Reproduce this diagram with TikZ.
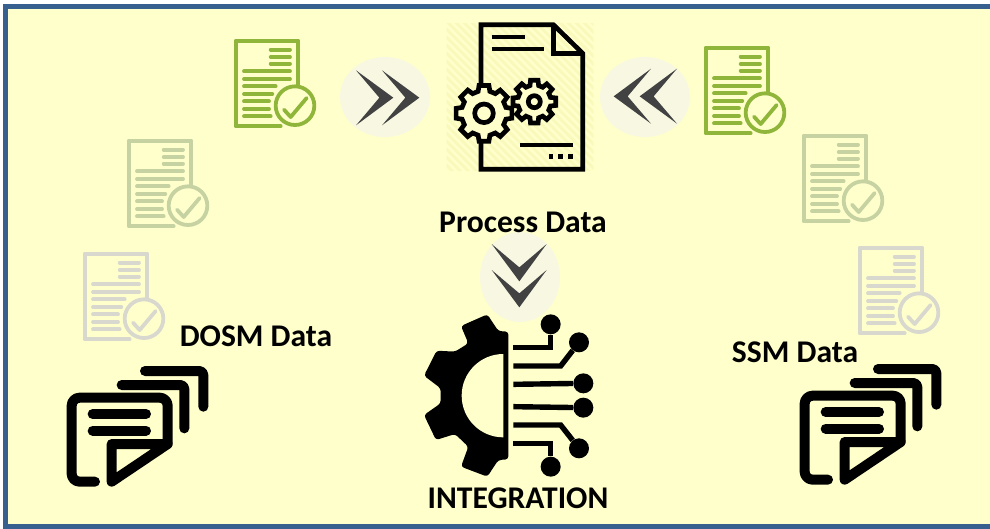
\documentclass[tikz,border=0pt]{standalone}
\usepackage{fontspec}
\setmainfont{Carlito}
\usetikzlibrary{shapes.geometric}
\definecolor{paper}{HTML}{FFFFCC}
\definecolor{frameblue}{HTML}{38608F}
\definecolor{docgreen}{HTML}{8FB63A}
\definecolor{docsage}{HTML}{C6D2A2}
\definecolor{docgrey}{HTML}{D8D8CE}
\definecolor{chevgrey}{HTML}{424242}
\definecolor{halogrey}{HTML}{F8F8E2}
\definecolor{hatchcol}{HTML}{F9F9BC}
\newcommand{\doclw}{3.8pt}
\newcommand{\stacklw}{10pt}
\newcommand{\wirelw}{5.4pt}
\tikzset{
    caption/.style={font=\bfseries\fontsize{31.6}{32}\selectfont, text=black, inner sep=0pt},
    halo/.style={ellipse, fill=halogrey, inner sep=0pt},
    pad/.style={circle, fill=black, inner sep=0pt, minimum size=20pt},
    wire/.style={line width=\wirelw},
    pics/checkdoc/.style={code={
        \begin{scope}[scale=1/3, line width=\doclw, draw=#1, line join=round, line cap=round]
            \draw (140,262) -- (5,262) -- (5,5) -- (193,5) -- (193,165);
            \foreach \y in {32,54,74} {\draw (110,\y) -- (168,\y);}
            \foreach \y/\e in {97/168,120/168,142/125,165/115,187/105,210/105,232/110} {\draw (30,\y) -- (\e,\y);}
            \draw[fill=paper] (183,200) circle (58);
            \draw (150,212) -- (170,234) -- (218,177);
        \end{scope}
    }},
    pics/chevrons/.style={code={
        \begin{scope}[scale=1/3]
            \fill[chevgrey] (-87,-80) -- (25,2) -- (-87,85) -- (-17,2) -- cycle;
            \fill[chevgrey] (-9,-80) -- (103,2) -- (-9,85) -- (61,2) -- cycle;
        \end{scope}
    }},
    pics/docstack/.style={code={
        \begin{scope}[scale=1/3, line width=\stacklw, line cap=round, line join=round]
            \draw[rounded corners=8pt] (135,725) -- (65,725) -- (65,473) -- (353,473) -- (353,612);
            \draw (185,725) -- (185,612) -- (353,612) -- cycle;
            \draw (128,522) -- (288,522);
            \draw (128,572) -- (288,572);
            \draw[rounded corners=4pt] (215,435) -- (403,435) -- (403,565);
            \draw[rounded corners=4pt] (285,393) -- (460,393) -- (460,500);
        \end{scope}
    }},
    pics/gearwheel/.style n args={3}{code={
        \draw[line width=4.7pt, fill=paper, line join=miter]
            (75:#1) \foreach \a in {90,135,...,405} { -- (\a-15:#1) -- (\a-10:#2) -- (\a+10:#2) -- (\a+15:#1) } -- cycle;
        \draw[line width=4.7pt] (0,0) circle (#3);
    }}
}
\begin{document}
\begin{tikzpicture}[x=1pt, y=-1pt]
    \useasboundingbox (0,0) rectangle (990,528);

    %frame
    \draw[frameblue, line width=5pt, fill=paper] (5.5,6.5) rectangle (1000,526.5);

    %halos
    \node[halo, minimum width=90pt, minimum height=80pt] (haloL) at (385,97) {};
    \node[halo, minimum width=90pt, minimum height=80pt] (haloR) at (645,97) {};
    \node[halo, minimum width=80pt, minimum height=90pt] (haloD) at (520,277) {};

    %chevrons
    \pic at (385,97) {chevrons};
    \pic[rotate=180] at (648,97) {chevrons};
    \pic[rotate=-90] at (520,273) {chevrons};

    %small documents
    \pic at (234,39)  {checkdoc=docgreen};
    \pic at (127,139) {checkdoc=docsage};
    \pic at (83,252)  {checkdoc=docgrey};
    \pic at (704,46)  {checkdoc=docgreen};
    \pic at (802,134) {checkdoc=docsage};
    \pic at (858,246) {checkdoc=docgrey};

    %process document
    \begin{scope}[shift={(340,10)}, scale=1/3]
        \begin{scope}
            \clip (320,40) rectangle (760,480);
            \foreach \k in {0,24,...,960} {\draw[hatchcol, line width=3pt] (320+\k,490) -- (320+\k-480,10);}
        \end{scope}
        \draw[line width=4.7pt, line join=miter] (423,230) -- (423,44) -- (640,44) -- (728,130) -- (728,478) -- (423,478) -- (423,390);
        \draw[line width=4.7pt, line join=miter] (640,44) -- (640,130) -- (728,130);
        \draw[line width=4.7pt] (455,81) -- (555,81);
        \draw[line width=4.7pt] (455,117) -- (612,117);
        \draw[line width=4.7pt] (540,405) -- (698,405);
        \foreach \x in {633,662,691} {\fill (\x-7,433) rectangle (\x+7,447);}
    \end{scope}
    \pic at (484,113.3) {gearwheel={22.7}{28.3}{9.3}};
    \pic at (534.3,101.7) {gearwheel={16.7}{21.7}{6}};

    %integration gear
    \begin{scope}[shift={(400,230)}, scale=1/3]
        \fill[rounded corners=3pt]
            (325,305) -- (295,303) -- (262,253) -- (183,288) -- (205,340) -- (165,365) -- (110,362)
            -- (72,437) -- (122,475) -- (122,520) -- (72,555) -- (108,630) -- (165,612) -- (205,650)
            -- (183,710) -- (262,740) -- (295,690) -- (325,688) -- cycle;
        \fill[paper] (310,372) arc[start angle=-90, end angle=-270, radius=125] -- cycle;

        %pads
        \node[pad] (padA) at (452,283) {};
        \node[pad] (padB) at (537,337) {};
        \node[pad] (padC) at (550,460) {};
        \node[pad] (padD) at (550,533) {};
        \node[pad] (padE) at (537,655) {};
        \node[pad] (padF) at (452,710) {};

        %wires
        \coordinate (startA) at (340,352);
        \coordinate (startB) at (340,408);
        \coordinate (startC) at (340,463);
        \coordinate (startD) at (340,530);
        \coordinate (startE) at (340,585);
        \coordinate (startF) at (340,640);
        \draw[wire] (startA) -| (padA);
        \draw[wire] (startB) -- (482,408) -- (padB);
        \draw[wire] (startC) -- (padC);
        \draw[wire] (startD) -- (padD);
        \draw[wire] (startE) -- (482,585) -- (padE);
        \draw[wire] (startF) -| (padF);
    \end{scope}

    %document stacks
    \pic at (50,240) {docstack};
    \pic at (783,238) {docstack};

    %labels
    \node[caption] (process) at (523,222) {Process Data};
    \node[caption] (dosm) at (256,336) {DOSM Data};
    \node[caption] (ssm) at (795,352) {SSM Data};
    \node[caption] (integration) at (518,498) {INTEGRATION};
\end{tikzpicture}
\end{document}
